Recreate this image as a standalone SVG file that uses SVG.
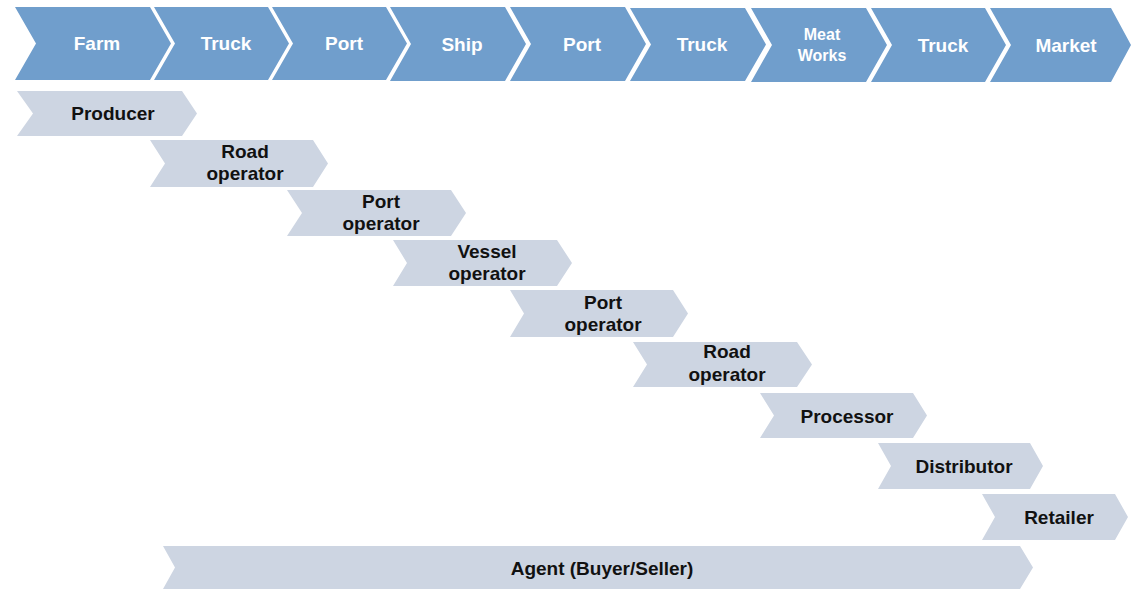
<svg xmlns="http://www.w3.org/2000/svg" width="1131" height="590" viewBox="0 0 1131 590">
<style>
.top{fill:#709ECC}
.low{fill:#CDD5E2}
.tt{font-family:"Liberation Sans",Arial,sans-serif;font-weight:bold;font-size:19px;fill:#FFFFFF;text-anchor:middle}
.ts{font-size:16px}
.lt{font-family:"Liberation Sans",Arial,sans-serif;font-weight:bold;font-size:19px;fill:#111111;text-anchor:middle}
</style>
<rect width="1131" height="590" fill="#FFFFFF"/>
<g id="stages">
<g id="s-farm"><polygon class="top" points="15,7 150,7 171,43.5 150,80 15,80 36,43.5"/><text class="tt" x="97" y="50">Farm</text></g>
<g id="s-truck1"><polygon class="top" points="154,7 268,7 289,43.5 268,80 154,80 175,43.5"/><text class="tt" x="226" y="50">Truck</text></g>
<g id="s-port1"><polygon class="top" points="272,7 386,7 407,43.5 386,80 272,80 293,43.5"/><text class="tt" x="344" y="50">Port</text></g>
<g id="s-ship"><polygon class="top" points="390,7 505,7 526,44 505,81 390,81 411,44"/><text class="tt" x="462" y="51">Ship</text></g>
<g id="s-port2"><polygon class="top" points="510,7 625,7 646,44 625,81 510,81 531,44"/><text class="tt" x="582" y="51">Port</text></g>
<g id="s-truck2"><polygon class="top" points="630,8 745,8 766,44.5 745,81 630,81 651,44.5"/><text class="tt" x="702" y="51">Truck</text></g>
<g id="s-meat"><polygon class="top" points="751,8 866,8 887,45 866,82 751,82 772,45"/><text class="tt ts" x="822" y="40">Meat</text><text class="tt ts" x="822" y="61">Works</text></g>
<g id="s-truck3"><polygon class="top" points="871,8 985,8 1006,45 985,82 871,82 892,45"/><text class="tt" x="943" y="52">Truck</text></g>
<g id="s-market"><polygon class="top" points="990,8 1111,8 1131,45 1111,82 990,82 1011,45"/><text class="tt" x="1066" y="52">Market</text></g>
</g>
<g id="actors">
<g id="a-producer"><polygon class="low" points="17,91 182,91 197,113.5 182,136 17,136 33,113.5"/><text class="lt" x="113" y="120">Producer</text></g>
<g id="a-road1"><polygon class="low" points="150,140 313,140 328,163.5 313,187 150,187 165,163.5"/><text class="lt" x="245" y="158">Road</text><text class="lt" x="245" y="180">operator</text></g>
<g id="a-port1"><polygon class="low" points="287,190 451,190 466,213 451,236 287,236 302,213"/><text class="lt" x="381" y="208">Port</text><text class="lt" x="381" y="230">operator</text></g>
<g id="a-vessel"><polygon class="low" points="393,240 557,240 572,263 557,286 393,286 407,263"/><text class="lt" x="487" y="258">Vessel</text><text class="lt" x="487" y="280">operator</text></g>
<g id="a-port2"><polygon class="low" points="510,290 673,290 688,313.5 673,337 510,337 524,313.5"/><text class="lt" x="603" y="309">Port</text><text class="lt" x="603" y="331">operator</text></g>
<g id="a-road2"><polygon class="low" points="633,342 797,342 812,364.5 797,387 633,387 647,364.5"/><text class="lt" x="727" y="358">Road</text><text class="lt" x="727" y="381">operator</text></g>
<g id="a-processor"><polygon class="low" points="760,393 913,393 927,415.5 913,438 760,438 774,415.5"/><text class="lt" x="847" y="423">Processor</text></g>
<g id="a-distributor"><polygon class="low" points="878,443 1030,443 1043,466 1030,489 878,489 891,466"/><text class="lt" x="964" y="473">Distributor</text></g>
<g id="a-retailer"><polygon class="low" points="982,494 1115,494 1128,517 1115,540 982,540 995,517"/><text class="lt" x="1059" y="524">Retailer</text></g>
<g id="a-agent"><polygon class="low" points="163,546 1020,546 1033,567.5 1020,589 163,589 175,567.5"/><text class="lt" x="602" y="575">Agent (Buyer/Seller)</text></g>
</g>
<g id="connectors"/>
</svg>
